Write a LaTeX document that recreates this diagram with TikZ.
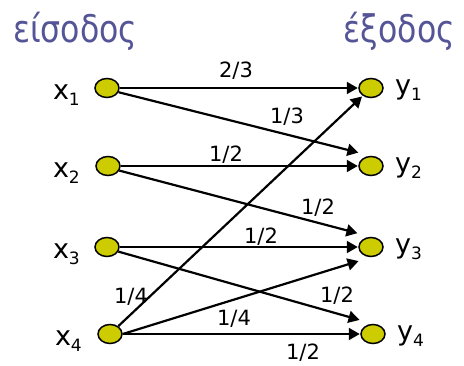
\documentclass[tikz,border=0pt]{standalone}
\usepackage{fontspec}
\setmainfont{DejaVu Sans}
\newfontfamily\titlefont[FakeStretch=0.83]{DejaVu Sans}
\usepackage{xcolor}
\usetikzlibrary{shapes.geometric, arrows.meta, positioning}

\definecolor{nodeyellow}{RGB}{204,204,0}
\definecolor{titleblue}{RGB}{84,84,150}

\newcommand{\symsub}[2]{#1\raisebox{-6pt}{\fontsize{17}{17}\selectfont #2}}

\begin{document}
\begin{tikzpicture}[x=1pt, y=-1pt,
    io-node/.style={ellipse, draw=black, fill=nodeyellow, line width=1.5pt, minimum width=24pt, minimum height=19pt, inner sep=0pt},
    edge/.style={draw=black, line width=2.2pt, -{Triangle[length=11pt,width=12pt]}},
    sym/.style={font=\fontsize{27}{27}\selectfont, inner sep=0pt},
    prob/.style={font=\fontsize{21}{21}\selectfont, inner sep=0pt},
    title/.style={font=\titlefont\fontsize{38}{38}\selectfont, text=titleblue, inner sep=0pt}
]
    \useasboundingbox (0,0) rectangle (464,366);

    \node[title, anchor=base west] (in) at (13,43) {είσοδος};
    \node[title, anchor=base east] (out) at (455,43) {έξοδος};

    \node[io-node] (x1) at (107,88) {};
    \node[io-node] (x2) at (108,166) {};
    \node[io-node] (x3) at (107,247) {};
    \node[io-node] (x4) at (110,334) {};

    \node[io-node] (y1) at (371,88) {};
    \node[io-node] (y2) at (371,166) {};
    \node[io-node] (y3) at (371,247) {};
    \node[io-node] (y4) at (373,334) {};

    \node[sym, anchor=base east] (lx1) at (80,100) {\symsub{x}{1}};
    \node[sym, anchor=base east] (lx2) at (80,178) {\symsub{x}{2}};
    \node[sym, anchor=base east] (lx3) at (80,259) {\symsub{x}{3}};
    \node[sym, anchor=base east] (lx4) at (82,346) {\symsub{x}{4}};

    \node[sym, anchor=base west] (ly1) at (395,95) {\symsub{y}{1}};
    \node[sym, anchor=base west] (ly2) at (395,173) {\symsub{y}{2}};
    \node[sym, anchor=base west] (ly3) at (395,254) {\symsub{y}{3}};
    \node[sym, anchor=base west] (ly4) at (397,341) {\symsub{y}{4}};

    \draw[edge, shorten >=0.5pt] (x1.east) -- (y1.west);
    \draw[edge, shorten >=13pt] (x1.-20) -- (y2.north);
    \draw[edge, shorten >=0.5pt] (x2.east) -- (y2.west);
    \draw[edge, shorten >=14pt] (x2.-22) -- (y3.north);
    \draw[edge, shorten >=0.5pt] (x3.east) -- (y3.west);
    \draw[edge, shorten >=14pt] (x3.-22) -- (y4.north);
    \draw[edge, shorten >=1pt] (x4) -- (y1);
    \draw[edge, shorten >=13pt] (x4.east) -- (y3.south);
    \draw[edge, shorten >=0.5pt] (x4.east) -- (y4.west);

    \node[prob] (p11) at (236,71) {2/3};
    \node[prob] (p12) at (287,117) {1/3};
    \node[prob] (p22) at (226,155) {1/2};
    \node[prob] (p23) at (318,208) {1/2};
    \node[prob] (p33) at (261,237) {1/2};
    \node[prob] (p34) at (337,296) {1/2};
    \node[prob] (p41) at (131,297) {1/4};
    \node[prob] (p43) at (234,319) {1/4};
    \node[prob] (p44) at (303,353) {1/2};

\end{tikzpicture}
\end{document}
